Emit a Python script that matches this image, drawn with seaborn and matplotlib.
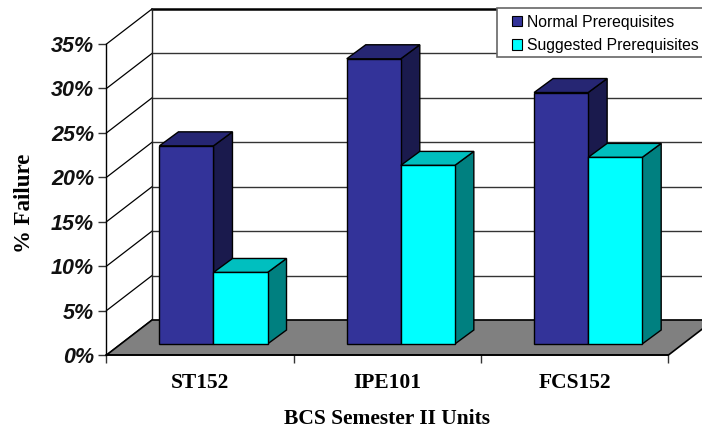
import seaborn as sns
import matplotlib.pyplot as plt
import pandas as pd
import numpy as np
from matplotlib.patches import Polygon, Rectangle
from matplotlib.transforms import Affine2D, IdentityTransform

# Data
units = ['ST152', 'IPE101', 'FCS152']
normal = [22.3, 32.1, 28.3]
suggested = [8.05, 20.1, 21.0]
y_ticks = [0, 5, 10, 15, 20, 25, 30, 35]
y_tick_labels = ['0%', '5%', '10%', '15%', '20%', '25%', '30%', '35%']
series_names = ['Normal Prerequisites', 'Suggested Prerequisites']

df = pd.DataFrame({
    'unit': units * 2,
    'failure': normal + suggested,
    'series': [series_names[0]] * 3 + [series_names[1]] * 3,
})

W, H = 702, 428
fig = plt.figure(figsize=(W / 100, H / 100), dpi=100)
# front plane of the fake 3d box, in pixels
left, right, top, bottom = 106.5, 668.5, 44, 355
ax = fig.add_axes([left / W, 1 - bottom / H, (right - left) / W, (bottom - top) / H])
ax.patch.set_alpha(0)

front_cols = ['#333399', '#00FFFF']
top_cols = ['#262673', '#00BFBF']
side_cols = ['#1A1A4D', '#008080']

sns.barplot(data=df, x='unit', y='failure', hue='series', hue_order=series_names,
            palette=front_cols, width=0.577, gap=0, saturation=1, ax=ax)
ax.set_xlim(-0.5, 2.5)
ax.set_ylim(0, 35)

# box depth and the bars' place inside it, in pixels (y up)
box_dx, box_dy = 45.5, 35
bar_shift = Affine2D().translate(13.3, 11)
bar_dx, bar_dy = 19, 14


def to_px(x, y):
    return ax.transData.transform((x, y))


def poly(points, color, z, edge='black', lw=1):
    ax.add_patch(Polygon(points, closed=True, facecolor=color, edgecolor=edge, lw=lw,
                         transform=IdentityTransform(), zorder=z, clip_on=False,
                         joinstyle='miter'))


# back wall grid, side wall diagonals
wall_x0, wall_x1 = -0.5, 2.5
for t in y_ticks:
    a = to_px(wall_x0, t)
    b = a + [box_dx, box_dy]
    c = to_px(wall_x1, t) + [box_dx, box_dy]
    lw = 1.8 if t == 35 else 1
    col = 'black' if t == 35 else '#333333'
    ax.plot([b[0], c[0]], [b[1], c[1]], color=col, lw=lw, transform=IdentityTransform(),
            zorder=1, clip_on=False)
    ax.plot([a[0], b[0]], [a[1], b[1]], color='black', lw=0.9, transform=IdentityTransform(),
            zorder=1, clip_on=False)
a = to_px(wall_x0, 0) + [box_dx, box_dy]
b = to_px(wall_x0, 35) + [box_dx, box_dy]
ax.plot([a[0], b[0]], [a[1], b[1]], color='#222222', lw=1, transform=IdentityTransform(),
        zorder=1, clip_on=False)

# floor
f0, f1 = to_px(wall_x0, 0), to_px(wall_x1, 0)
poly([f0, f1, f1 + [box_dx, box_dy], f0 + [box_dx, box_dy]], '#808080', 2, lw=1.2)

# bars, front face comes from seaborn, the other two faces follow it
z = 3
for cont_i, cont in enumerate(ax.containers):
    for bar in cont:
        bar.set_transform(ax.transData + bar_shift)
        bar.set_edgecolor('black')
        bar.set_linewidth(1)
        bar.set_clip_on(False)
for group in range(len(units)):
    for cont_i, cont in enumerate(ax.containers):
        bar = cont[group]
        x0, x1 = bar.get_x(), bar.get_x() + bar.get_width()
        h = bar.get_height()
        bl = bar_shift.transform(to_px(x0, h))
        br = bar_shift.transform(to_px(x1, h))
        b0 = bar_shift.transform(to_px(x1, 0))
        d = np.array([bar_dx, bar_dy])
        poly([br, b0, b0 + d, br + d], side_cols[cont_i], z)
        poly([bl, br, br + d, bl + d], top_cols[cont_i], z + 1)
        bar.set_zorder(z + 2)
        z += 3

# axes
sns.despine(ax=ax, top=True, right=True)
ax.spines['left'].set_linewidth(1)
ax.spines['bottom'].set_linewidth(1.2)
ax.set_yticks(y_ticks)
ax.set_yticklabels(y_tick_labels, family='Liberation Sans', weight='bold', style='italic',
                   fontsize=15.5, color='#111111')
ax.tick_params(axis='y', length=6, width=1, color='#333333', pad=3)
ax.set_xticks(range(len(units)))
ax.set_xticklabels(units, family='Liberation Serif', weight='bold', fontsize=15.5)
ax.tick_params(axis='x', which='major', length=0, pad=13)
ax.set_xticks([-0.5, 0.5, 1.5, 2.5], minor=True)
ax.tick_params(axis='x', which='minor', length=6, width=1, color='#333333')

fig.text(387 / W, 1 - 419 / H, 'BCS Semester II Units', family='Liberation Serif', weight='bold',
         fontsize=15.5, ha='center', va='center')
fig.text(25 / W, 1 - 203 / H, '% Failure', family='Liberation Serif', weight='bold',
         fontsize=16.5, rotation=90, ha='center', va='center')
ax.set_xlabel('')
ax.set_ylabel('')

# legend box runs off the right edge, so the frame is drawn on its own
fig.add_artist(Rectangle((497 / W, 1 - 57 / H), 220 / W, 49 / H, transform=fig.transFigure,
                         facecolor='white', edgecolor='#666666', lw=1.2, zorder=50))
sns.move_legend(ax, 'upper left', bbox_to_anchor=(512 / W, 1 - 14.5 / H), bbox_transform=fig.transFigure,
                title=None, frameon=False, borderaxespad=0, borderpad=0, handlelength=0.65,
                handleheight=0.65, handletextpad=0.32, labelspacing=0.55,
                prop={'family': 'Liberation Sans', 'size': 11.3})
leg = ax.get_legend()
for patch in leg.get_patches():
    patch.set_edgecolor('black')
    patch.set_linewidth(0.8)
leg.remove()
fig.add_artist(leg)
leg.set_zorder(60)

fig.savefig('out.png', dpi=100)
